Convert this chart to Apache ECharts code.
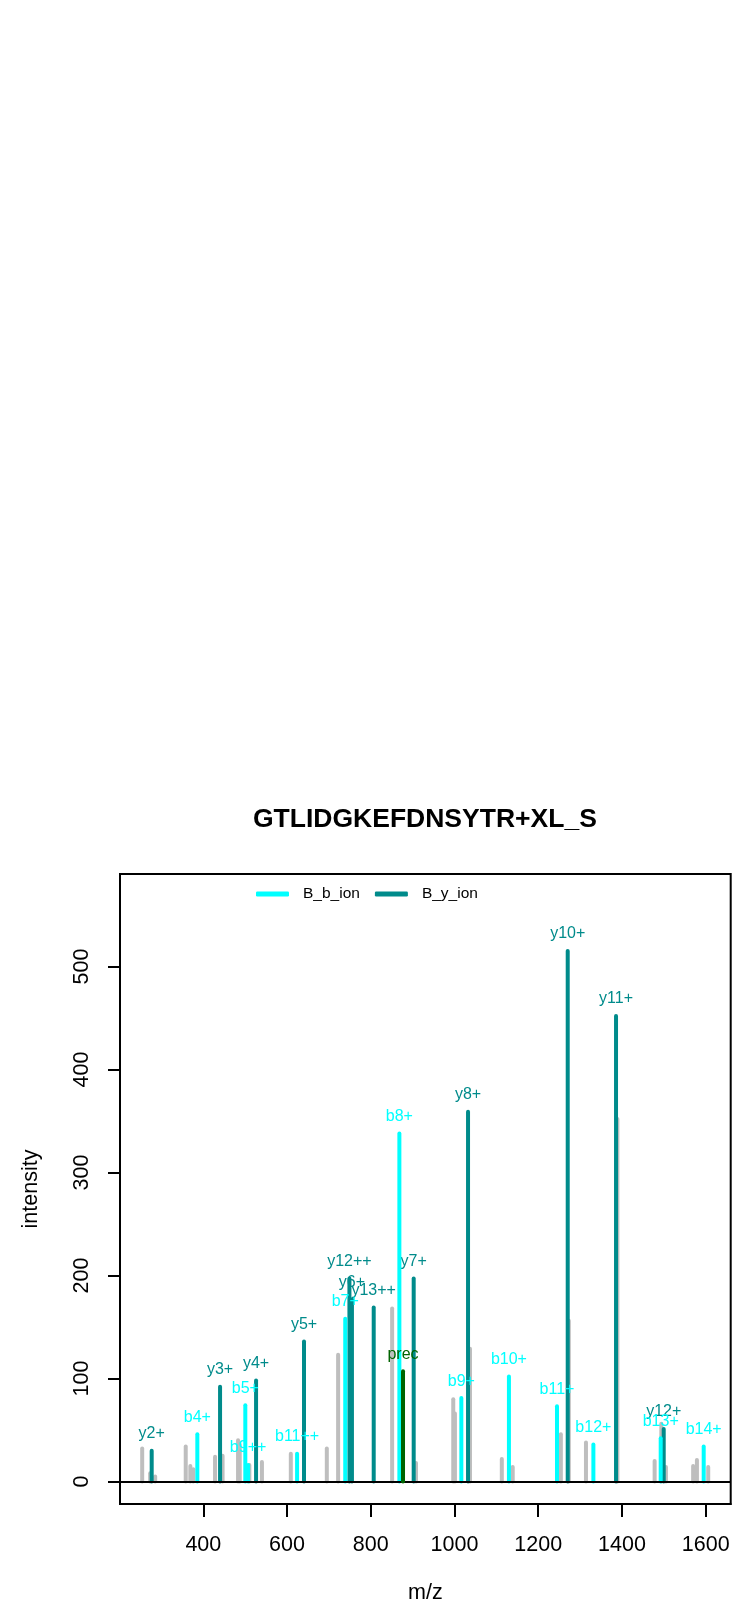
<!DOCTYPE html>
<html>
<head>
<meta charset="utf-8">
<script src="https://cdn.jsdelivr.net/npm/echarts@6/dist/echarts.min.js"></script>
<style>
html,body{margin:0;padding:0;background:#fff;}
#chart{width:738px;height:1608px;}
</style>
</head>
<body>
<div id="chart"></div>
<script>
// ---- data ----
const titleText = 'GTLIDGKEFDNSYTR+XL_S';
const xTicks = [400, 600, 800, 1000, 1200, 1400, 1600];
const yTicks = [0, 100, 200, 300, 400, 500];

// unannotated peaks (grey)
const otherMz   = [254, 273, 285, 358, 369, 376, 428, 446, 483, 487, 510, 540, 609, 695, 722, 851, 908, 997, 1001, 1037, 1113, 1139, 1254, 1273, 1314, 1389, 1478, 1494, 1505, 1570, 1579, 1606];
const otherInt  = [32, 8, 5, 34, 15, 12, 24, 25, 40, 36, 16, 19, 27, 32, 123, 168, 18, 80, 66, 129, 22, 14, 46, 156, 38, 352, 20, 56, 14, 15, 21, 14];

// b ions
const bMz     = [385.7, 500.3, 507, 624, 739, 868.3, 1016.3, 1130, 1244.8, 1331.7, 1492.5, 1595.2];
const bInt    = [46, 74, 16, 27, 158, 338, 81, 102, 73, 36, 42, 34];
const bLabels = ['b4+', 'b5+', 'b9++', 'b11++', 'b7+', 'b8+', 'b9+', 'b10+', 'b11+', 'b12+', 'b13+', 'b14+'];

// y ions
const yMz     = [276.7, 440, 526, 640.5, 749, 755, 807, 902.5, 1032.3, 1270.4, 1385.8, 1499.7];
const yInt    = [30, 92, 98, 136, 197, 177, 169, 197, 359, 515, 452, 51];
const yLabels = ['y2+', 'y3+', 'y4+', 'y5+', 'y12++', 'y6+', 'y13++', 'y7+', 'y8+', 'y10+', 'y11+', 'y12+'];

// precursor
const precMz = [877];
const precInt = [107];
const precLabels = ['prec'];

// ---- chart ----
const FONT = '"Liberation Sans", Arial, sans-serif';

function stickSeries(name, mz, inten, labels, color, z) {
  return {
    type: 'custom',
    name: name,
    z: z,
    data: mz.map((m, i) => [m, inten[i]]),
    encode: { x: 0, y: 1 },
    renderItem: function (params, api) {
      const x = api.value(0), y = api.value(1);
      const top = api.coord([x, y]);
      const base = api.coord([x, 0]);
      const children = [{
        type: 'line',
        shape: { x1: base[0], y1: base[1], x2: top[0], y2: top[1] },
        style: { stroke: color, lineWidth: 4, lineCap: 'round' }
      }];
      if (labels) {
        children.push({
          type: 'text',
          style: {
            text: labels[params.dataIndex],
            x: top[0], y: top[1] - 17,
            fill: color,
            fontSize: 16, fontFamily: FONT,
            align: 'center', verticalAlign: 'middle'
          }
        });
      }
      return { type: 'group', children: children };
    }
  };
}

const chart = echarts.init(document.getElementById('chart'), null, { renderer: 'canvas' });
chart.setOption({
  backgroundColor: '#ffffff',
  animation: false,
  title: {
    text: titleText,
    left: 253, top: 806, padding: 0,
    textStyle: { fontSize: 26.5, fontWeight: 'bold', fontFamily: FONT, color: '#000' }
  },
  legend: {
    left: 256, top: 886, padding: 0,
    itemWidth: 33, itemHeight: 5, itemGap: 15,
    textStyle: { fontSize: 15.5, fontFamily: FONT, color: '#000', padding: [0, 0, 0, 9] },
    data: [
      { name: 'B_b_ion', icon: 'roundRect', itemStyle: { color: '#00FFFF' } },
      { name: 'B_y_ion', icon: 'roundRect', itemStyle: { color: '#008B8B' } }
    ]
  },
  grid: {
    left: 120, right: 7.3, top: 874, bottom: 104,
    show: true, borderColor: '#000', borderWidth: 2, backgroundColor: 'transparent'
  },
  xAxis: {
    type: 'value', min: 201, max: 1659.7,
    name: 'm/z', nameLocation: 'middle', nameGap: 78,
    nameTextStyle: { fontSize: 21.5, fontFamily: FONT, color: '#000' },
    axisLine: { show: true, onZero: false, lineStyle: { color: '#000', width: 2 } },
    axisTick: { show: true, length: 13, lineStyle: { color: '#000', width: 2 }, customValues: xTicks },
    axisLabel: { fontSize: 21.5, fontFamily: FONT, color: '#000', margin: 30, customValues: xTicks,
                 formatter: function (v) { return String(v); } },
    splitLine: { show: false }
  },
  yAxis: {
    type: 'value', min: -21.8, max: 589.8,
    name: 'intensity', nameLocation: 'middle', nameGap: 78, nameRotate: 90,
    nameTextStyle: { fontSize: 21.5, fontFamily: FONT, color: '#000' },
    axisLine: { show: true, onZero: false, lineStyle: { color: '#000', width: 2 } },
    axisTick: { show: true, length: 12, lineStyle: { color: '#000', width: 2 }, customValues: yTicks },
    axisLabel: { fontSize: 21.5, fontFamily: FONT, color: '#000', margin: 27, rotate: 90, customValues: yTicks,
                 formatter: function (v) { return String(v); } },
    splitLine: { show: false }
  },
  series: [
    stickSeries('other', otherMz, otherInt, null, '#BEBEBE', 2),
    stickSeries('B_y_ion', yMz, yInt, yLabels, '#008B8B', 3),
    stickSeries('B_b_ion', bMz, bInt, bLabels, '#00FFFF', 4),
    stickSeries('prec', precMz, precInt, precLabels, '#006400', 5),
    {
      type: 'line', name: 'zero', data: [], z: 10, silent: true,
      markLine: {
        silent: true, symbol: 'none', animation: false,
        label: { show: false },
        lineStyle: { color: '#000', width: 2, type: 'solid' },
        data: [{ yAxis: 0 }]
      }
    }
  ]
});
</script>
</body>
</html>
